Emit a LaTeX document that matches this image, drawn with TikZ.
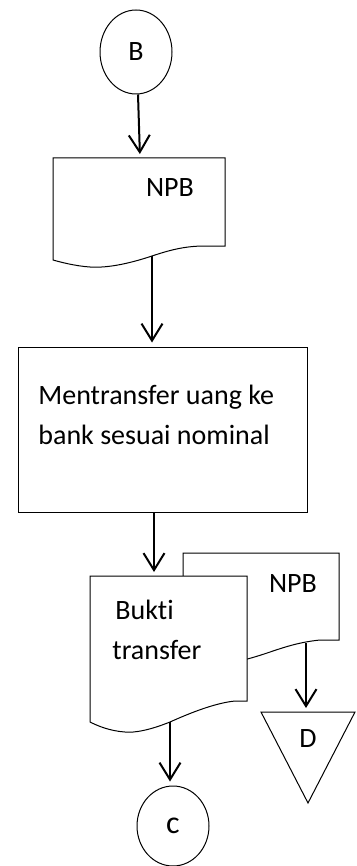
\documentclass[tikz,border=0pt]{standalone}
\usepackage{fontspec}
\setmainfont{Carlito}[Ligatures=NoCommon]
\usepackage{tikz}
\usetikzlibrary{shapes.geometric, arrows.meta, positioning, calc}
\tikzset{
  conn/.style={ellipse, draw, line width=0.5pt, minimum width=36pt,
    minimum height=42pt, inner sep=0pt, font=\fontsize{14}{17}\selectfont},
  procbox/.style={rectangle, draw, line width=0.5pt,
    minimum width=144.5pt, minimum height=82.5pt},
  docline/.style={draw, fill=white, line width=0.5pt},
  lbl/.style={inner sep=0pt, font=\fontsize{14}{20}\selectfont, align=left},
  arrow/.style={-{Straight Barb[length=8.5pt,width=10.5pt]}, line width=1pt,
    shorten >=2pt}
}

\begin{document}
\begin{tikzpicture}[x=0.5pt, y=-0.5pt]
  \useasboundingbox (0,0) rectangle (357,866);
  % off-page connector B
  \node[conn] (b) at (136,52) {B};
  % document NPB
  \draw[docline] (53,158) -- (225,158) -- (225,246) -- (205,246)
    .. controls (185,246) and (170,250) .. (152,256) coordinate (npb1w)
    .. controls (125,265) and (105,268) .. (90,267)
    .. controls (75,266) and (60,262) .. (53,260) -- cycle;
  \coordinate (npb1n) at (140,158);
  \node[lbl] (npb1) at (170,188) {NPB};
  % process
  \node[procbox] (proc) at (162.5,429.5) {};
  \node[lbl, anchor=north west] (proctext) at (38,385)
    {Mentransfer uang ke\\bank sesuai nominal};
  % document NPB (copy), behind
  \draw[docline] (183,553) -- (339,553) -- (339,640) -- (320,640)
    .. controls (300,642) and (285,647) .. (273,651)
    .. controls (250,659) and (225,666) .. (205,665)
    .. controls (195,664) and (188,662) .. (183,660) -- cycle;
  \coordinate (npb2w) at (306,643);
  \node[lbl] (npb2) at (293,584) {NPB};
  % document Bukti transfer
  \draw[docline] (90,576) -- (247,576) -- (247,701) -- (235,701)
    .. controls (215,703) and (190,713) .. (170,722) coordinate (buktiw)
    .. controls (150,730) and (135,733) .. (125,732)
    .. controls (110,731) and (98,726) .. (90,722) -- cycle;
  \coordinate (buktin) at (154,576);
  \node[lbl, anchor=north west] (bukti) at (112,600)
    {\hspace{1.5pt}Bukti\\transfer};
  % archive D
  \draw[line width=0.5pt] (261,712) -- (355,712) -- (308,803) -- cycle;
  \coordinate (dtop) at (306,712);
  \node[lbl] (d) at (308,739) {D};
  % connector c
  \node[conn, minimum height=40pt, font=\fontsize{16}{19}\selectfont] (c)
    at (173,826) {c};
  % arrows
  \draw[arrow] ([xshift=1pt]b.south) -- (npb1n);
  \draw[arrow] (npb1w) -- (npb1w |- proc.north);
  \draw[arrow] (proc.south -| buktin) -- (buktin);
  \draw[arrow] (buktiw) -- (buktiw |- c.north);
  \draw[arrow] (npb2w) -- (dtop);
\end{tikzpicture}
\end{document}
